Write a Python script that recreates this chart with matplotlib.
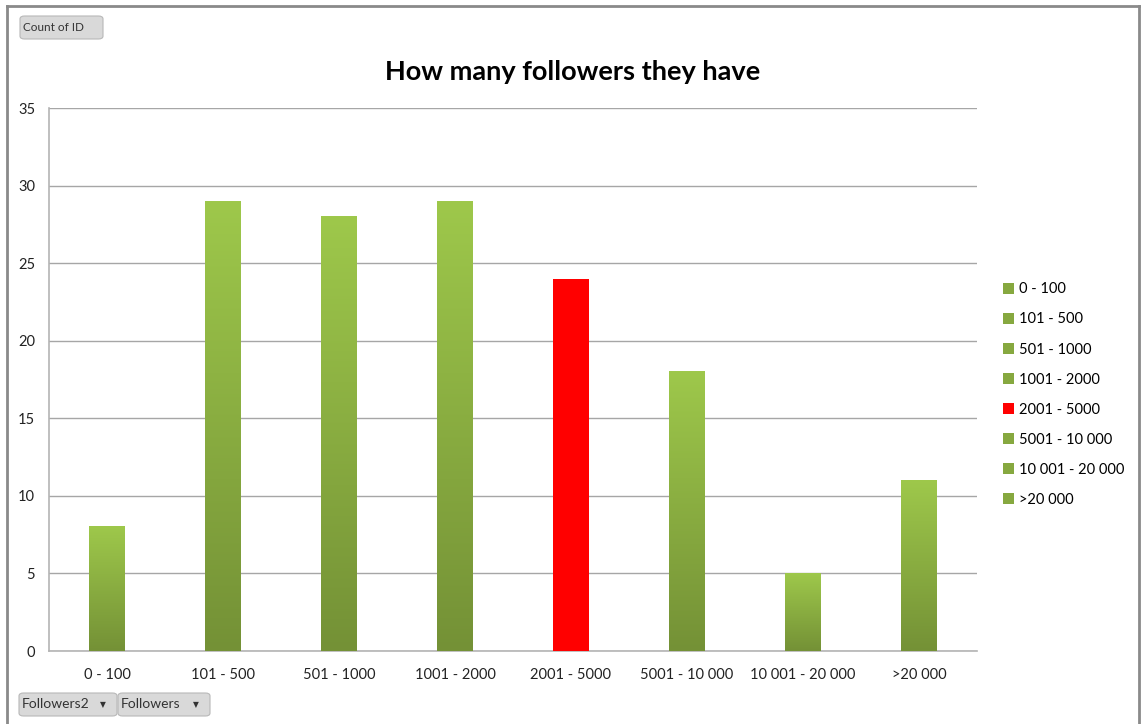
import matplotlib.pyplot as plt
import numpy as np
from matplotlib.patches import Patch, FancyBboxPatch

plt.rcParams['font.family'] = ['Lato', 'DejaVu Sans']

# datos
categorias = ['0 - 100', '101 - 500', '501 - 1000', '1001 - 2000', '2001 - 5000',
              '5001 - 10 000', '10 001 - 20 000', '>20 000']
cantidad = [8, 29, 28, 29, 24, 18, 5, 11]
resaltado = '2001 - 5000'
yticks = [0, 5, 10, 15, 20, 25, 30, 35]

verde_claro = np.array([0x9e, 0xc8, 0x4b]) / 255
verde_osc = np.array([0x74, 0x91, 0x36]) / 255
rojo = '#ff0000'

fig = plt.figure(figsize=(11.41, 7.24), dpi=100)
ax = fig.add_axes([0.0429, 0.1008, 0.8134, 0.75])

ancho = 0.31
x = np.arange(len(categorias))
grad = np.linspace(0, 1, 256)[:, None]
cmap_img = np.zeros((256, 1, 3))
for k in range(3):
    cmap_img[:, 0, k] = verde_claro[k] * (1 - grad[:, 0]) + verde_osc[k] * grad[:, 0]

for xi, cat, val in zip(x, categorias, cantidad):
    if cat == resaltado:
        ax.bar(xi, val, width=ancho, color=rojo, zorder=3)
    else:
        ax.imshow(cmap_img, extent=(xi - ancho/2, xi + ancho/2, 0, val),
                  aspect='auto', zorder=3, interpolation='bilinear')

ax.set_xlim(-0.5, len(categorias) - 0.5)
ax.set_ylim(0, 35)
ax.set_yticks(yticks)
ax.set_xticks(x)
ax.set_xticklabels(categorias)
ax.tick_params(axis='both', length=0, labelsize=10.5, colors='#222222')
ax.tick_params(axis='y', pad=10)
ax.tick_params(axis='x', pad=12)
ax.grid(axis='y', color='#a6a6a6', lw=1, zorder=0)
for s in ['top', 'right']:
    ax.spines[s].set_visible(False)
for s in ['left', 'bottom']:
    ax.spines[s].set_color('#b4b4b4')
    ax.spines[s].set_linewidth(1.2)

fig.text(0.502, 0.9, 'How many followers they have', ha='center', va='center',
         fontsize=19.5, fontweight='bold')

# leyenda
handles = []
for cat in categorias:
    c = rojo if cat == resaltado else '#86a83f'
    handles.append(Patch(facecolor=c, edgecolor='none', label=cat))
fig.legend(handles=handles, loc='upper left', bbox_to_anchor=(0.8675, 0.628),
           frameon=False, fontsize=10.5, handlelength=0.75, handleheight=0.75,
           handletextpad=0.35, labelspacing=1.1)

# marco exterior
W, H = 1141, 724
gris = '#8a8a8a'
fig.add_artist(plt.Line2D([7/W, 7/W], [0, 1 - 6/H], color=gris, lw=2, transform=fig.transFigure))
fig.add_artist(plt.Line2D([7/W, 1139/W], [1 - 6/H, 1 - 6/H], color=gris, lw=2, transform=fig.transFigure))
fig.add_artist(plt.Line2D([1139/W, 1139/W], [0, 1 - 6/H], color=gris, lw=2, transform=fig.transFigure))

# botones
def boton(x0, y0, w, h, texto, tam, flecha=False):
    p = FancyBboxPatch((x0/W, 1 - (y0 + h)/H), w/W, h/H,
                       boxstyle='round,pad=0,rounding_size=0.004',
                       facecolor='#d9d9d9', edgecolor='#b8b8b8', lw=0.8,
                       transform=fig.transFigure)
    fig.add_artist(p)
    fig.text((x0 + 3)/W, 1 - (y0 + h/2)/H, texto, ha='left', va='center',
             fontsize=tam, color='#333333')
    if flecha:
        fig.text((x0 + w - 14)/W, 1 - (y0 + h/2)/H, '▼', ha='center', va='center',
                 fontsize=5.5, color='#333333', family='DejaVu Sans')

boton(20, 16, 83, 23, 'Count of ID', 8.5)
boton(19, 693, 98, 23, 'Followers2', 10, True)
boton(118, 693, 92, 23, 'Followers', 10, True)

fig.savefig('out.png', dpi=100)
